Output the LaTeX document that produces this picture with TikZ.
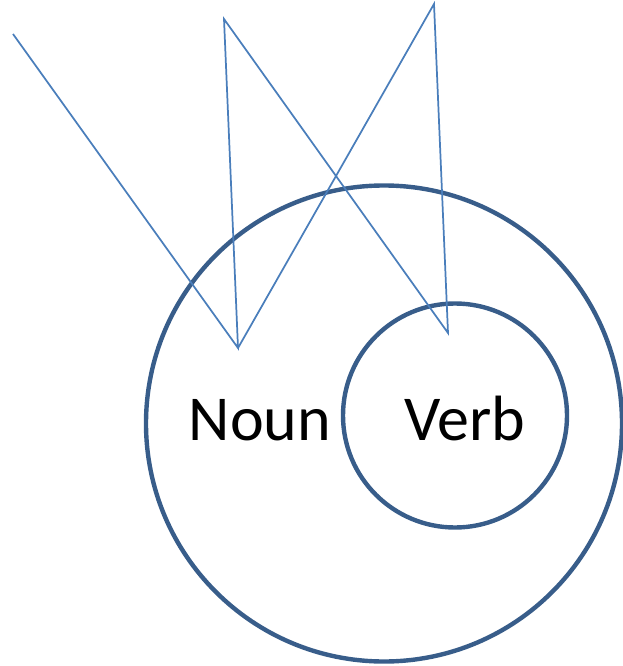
\documentclass[tikz,border=0pt]{standalone}
\usepackage{fontspec}
\setmainfont{Carlito}
\definecolor{ring_blue}{RGB}{56,93,138}
\definecolor{line_blue}{RGB}{74,126,187}

\begin{document}
\begin{tikzpicture}[x=0.75pt,y=-0.75pt]
    \tikzstyle{ring}=[draw=ring_blue, circle, line width=3.3pt, inner sep=0pt, fill=none]
    \tikzstyle{word}=[anchor=base, inner sep=0pt, font=\fontsize{48}{48}\selectfont, text=black]
    \tikzstyle{zig}=[draw=line_blue, line width=1.3pt, line join=miter]

    \useasboundingbox (0,0) rectangle (622,666);

    \node[ring, minimum size=357pt] (nounring) at (384,423.5) {};
    \node[ring, minimum size=168pt] (verbring) at (455,415.5) {};
    \node[word] (noun) at (260,440) {Noun};
    \node[word] (verb) at (465,440) {Verb};

    \coordinate (a) at (13,34);
    \coordinate (b) at (238,348);
    \coordinate (c) at (224,19);
    \coordinate (d) at (448,333);
    \coordinate (e) at (434,4);
    \path[zig]
     (a) -- (b) -- (c) -- (d) -- (e) -- (b)
     ;
\end{tikzpicture}
\end{document}
